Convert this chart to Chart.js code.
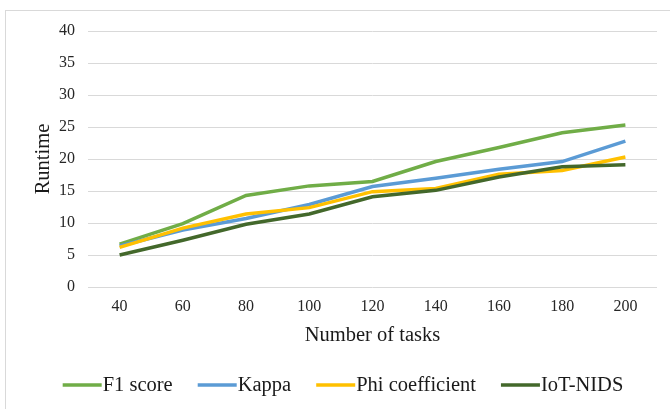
<!DOCTYPE html>
<html>
<head>
<meta charset="utf-8">
<script src="https://cdn.jsdelivr.net/npm/chart.js@4"></script>
<style>
  html, body { margin: 0; padding: 0; background: #fff; }
  #wrap { position: relative; width: 670px; height: 409px; overflow: hidden; }
  #frame { position: absolute; left: 5px; top: 10px; width: 700px; height: 440px; border: 1px solid #d9d9d9; box-sizing: border-box; }
  #c { position: absolute; left: 0; top: 0; }
</style>
</head>
<body>
<div id="wrap">
  <div id="frame"></div>
  <canvas id="c" width="670" height="409"></canvas>
</div>
<script>
// Runtime per number of tasks for each method
const tasks = ['40', '60', '80', '100', '120', '140', '160', '180', '200'];
const f1Score = [6.7, 9.9, 14.3, 15.8, 16.5, 19.6, 21.8, 24.1, 25.3];
const kappa   = [6.4, 8.9, 10.7, 12.9, 15.7, 17.0, 18.4, 19.6, 22.8];
const phiCoef = [6.2, 9.2, 11.4, 12.4, 14.9, 15.4, 17.6, 18.2, 20.3];
const iotNids = [5.0, 7.3, 9.8, 11.4, 14.1, 15.1, 17.2, 18.8, 19.1];
const yTicks  = [0, 5, 10, 15, 20, 25, 30, 35, 40];

const serif = '"Liberation Serif", "Times New Roman", serif';

// Line-sample legend, drawn under the axis title
const lineLegend = {
  id: 'lineLegend',
  afterDraw(chart) {
    const ctx = chart.ctx;
    const items = chart.data.datasets.map(d => ({ text: d.label, color: d.borderColor }));
    const lineLen = 39, gap = 1, spacing = 25, y = 385;
    ctx.save();
    ctx.font = '20.5px ' + serif;
    ctx.textBaseline = 'middle';
    let total = 0;
    items.forEach((it, i) => {
      it.w = ctx.measureText(it.text).width;
      total += lineLen + gap + it.w + (i < items.length - 1 ? spacing : 0);
    });
    let x = 343 - total / 2;
    items.forEach(it => {
      ctx.strokeStyle = it.color;
      ctx.lineWidth = 3.5;
      ctx.beginPath();
      ctx.moveTo(x, y);
      ctx.lineTo(x + lineLen, y);
      ctx.stroke();
      ctx.fillStyle = '#1a1a1a';
      ctx.fillText(it.text, x + lineLen + gap, y + 1);
      x += lineLen + gap + it.w + spacing;
    });
    ctx.restore();
  }
};

const mk = (label, data, color, order) => ({
  label, data, borderColor: color, backgroundColor: color,
  borderWidth: 3.5, pointRadius: 0, pointHoverRadius: 0, tension: 0, fill: false, order
});

new Chart(document.getElementById('c'), {
  type: 'line',
  data: {
    labels: tasks,
    datasets: [
      mk('F1 score', f1Score, '#70ad47', 4),
      mk('Kappa', kappa, '#5b9bd5', 3),
      mk('Phi coefficient', phiCoef, '#ffc000', 2),
      mk('IoT-NIDS', iotNids, '#43682b', 1)
    ]
  },
  options: {
    responsive: false,
    animation: false,
    layout: { padding: { left: 31, right: 13, top: 31, bottom: 61 } },
    plugins: { legend: { display: false }, tooltip: { enabled: false } },
    scales: {
      x: {
        offset: true,
        grid: { display: false, drawTicks: false },
        border: { display: false },
        ticks: { font: { family: serif, size: 16 }, color: '#262626', padding: 10, maxRotation: 0 },
        title: { display: true, text: 'Number of tasks', font: { family: serif, size: 20.5 }, color: '#1a1a1a', padding: 0 },
        afterFit(s) { s.height = 61; }
      },
      y: {
        min: 0, max: 40,
        afterBuildTicks(s) { s.ticks = yTicks.map(v => ({ value: v })); },
        grid: { color: '#d9d9d9', lineWidth: 1, drawTicks: false },
        border: { display: false },
        ticks: { font: { family: serif, size: 16 }, color: '#262626', padding: 13 },
        title: { display: true, text: 'Runtime', font: { family: serif, size: 20.5 }, color: '#1a1a1a', padding: 0 },
        afterFit(s) { s.width = 57; }
      }
    }
  },
  plugins: [lineLegend]
});
</script>
</body>
</html>
